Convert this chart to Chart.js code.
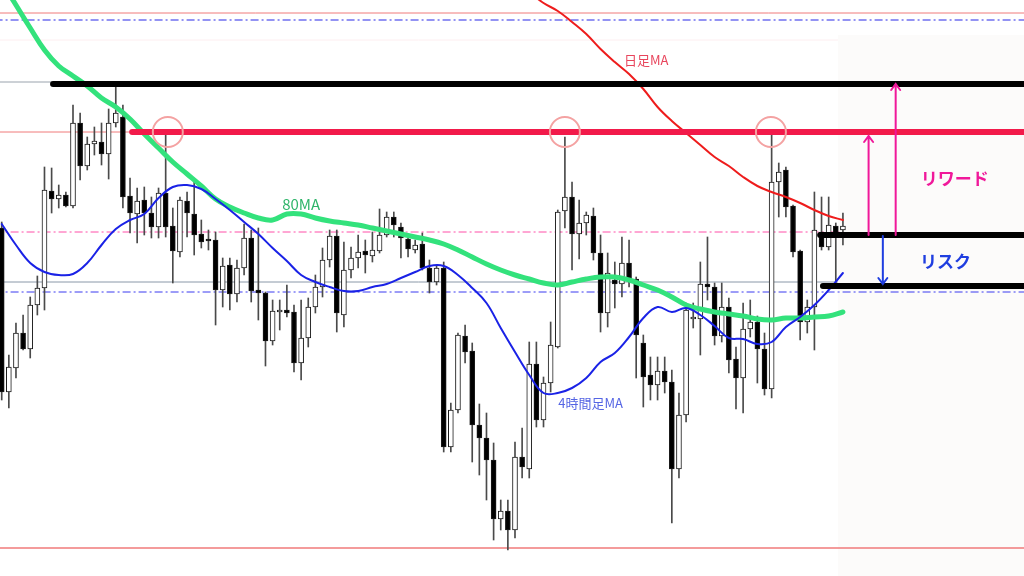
<!DOCTYPE html>
<html>
<head>
<meta charset="utf-8">
<script src="https://cdn.jsdelivr.net/npm/chart.js@4.4.1/dist/chart.umd.min.js"></script>
<style>
  html, body { margin: 0; padding: 0; background: #fff; }
  #wrap { width: 1024px; height: 576px; position: relative; }
</style>
</head>
<body>
<div id="wrap"><canvas id="fxChart"></canvas></div>
<script>
// 1h candles, prices (bar 0 = left edge)
const opens = [
  157.72,156.08,156.32,156.67,156.51,156.95,157.12,158.09,158.01,158.05,
  157.94,158.77,158.34,158.56,158.58,158.46,158.77,158.83,158.04,157.86,
  158.00,157.87,157.73,158.07,157.74,157.48,157.99,157.86,157.66,157.60,
  157.60,157.10,157.35,157.06,157.32,157.62,157.10,157.07,156.59,156.88,
  156.90,156.88,156.37,156.62,156.93,157.13,157.40,157.64,156.85,157.30,
  157.42,157.49,157.44,157.49,157.65,157.83,157.73,157.61,157.50,157.56,
  157.32,157.18,157.32,155.53,155.90,156.64,156.49,155.75,155.62,155.40,
  154.81,154.89,154.70,155.43,155.31,156.36,155.80,156.17,156.53,157.89,
  158.03,157.66,157.77,157.84,157.47,156.87,157.20,157.16,157.37,157.21,
  156.57,156.25,156.15,156.29,156.18,155.31,155.85,156.81,156.81,157.16,
  157.13,156.64,156.93,156.41,156.22,156.71,156.78,156.51,156.11,158.18,
  158.30,157.94,157.49,156.78,156.93,157.68,157.53,157.74,157.70
];
const highs = [
  157.78,156.45,156.77,156.85,157.03,157.24,158.33,158.32,158.15,158.08,
  158.95,158.87,158.63,158.73,158.77,158.91,159.15,158.95,158.22,158.12,
  158.13,158.03,158.12,158.65,157.92,158.03,158.08,158.18,157.80,157.70,
  157.68,157.42,157.42,157.40,157.76,157.70,157.72,157.08,157.00,157.00,
  157.15,156.95,157.00,157.02,157.25,157.52,157.70,157.70,157.58,157.53,
  157.65,157.60,157.68,157.91,157.88,157.88,157.77,157.64,157.60,157.67,
  157.40,157.35,157.38,155.97,156.67,156.75,156.57,155.96,155.87,155.57,
  155.00,155.00,155.58,155.72,156.58,156.58,156.23,156.78,157.90,158.63,
  158.18,158.00,157.88,157.92,157.65,157.47,157.38,157.63,157.60,157.23,
  156.65,156.43,156.43,156.43,156.30,156.07,156.97,156.97,157.38,157.63,
  157.17,157.17,157.02,156.53,156.97,157.00,156.84,156.67,158.65,158.37,
  158.33,157.95,157.50,157.00,158.08,158.03,158.03,157.77,157.87
];
const lows = [
  156.00,155.92,156.22,156.50,156.42,156.85,156.90,157.87,157.92,157.93,
  157.92,158.20,158.30,158.45,158.35,158.21,158.73,157.92,157.67,157.57,
  157.65,157.62,157.62,157.63,157.17,157.43,157.63,157.45,157.52,157.50,
  156.75,156.93,156.90,156.98,157.25,156.98,156.80,156.34,156.55,156.70,
  156.83,156.28,156.20,156.53,156.87,157.03,157.33,156.68,156.73,157.22,
  157.32,157.27,157.38,157.47,157.63,157.63,157.42,157.43,157.47,157.30,
  157.07,157.15,155.48,155.48,155.87,156.37,155.38,155.25,155.00,154.60,
  154.70,154.50,154.62,155.22,155.22,155.73,155.73,156.08,156.52,157.72,
  157.30,157.41,157.65,157.40,156.68,156.73,156.92,157.03,157.13,156.22,
  155.93,156.00,156.00,156.07,154.77,155.22,155.78,156.72,156.45,157.00,
  156.55,156.58,156.27,155.91,155.87,156.63,156.17,156.05,156.02,157.83,
  157.83,157.43,156.60,156.67,156.50,157.50,157.50,157.17,157.55
];
const closes = [
  156.08,156.33,156.67,156.51,156.95,157.12,158.10,158.01,158.05,157.94,
  158.77,158.34,158.56,158.59,158.46,158.77,158.87,158.03,157.87,157.99,
  157.87,157.73,158.07,157.73,157.49,158.00,157.87,157.65,157.58,157.59,
  157.10,157.34,157.06,157.32,157.62,157.09,157.07,156.59,156.89,156.90,
  156.87,156.37,156.62,156.93,157.13,157.40,157.64,156.87,157.30,157.42,
  157.48,157.45,157.50,157.65,157.83,157.75,157.62,157.51,157.55,157.32,
  157.18,157.32,155.53,155.90,156.65,156.48,155.75,155.62,155.40,154.81,
  154.89,154.70,155.43,155.33,156.36,155.80,156.17,156.55,157.88,158.03,
  157.66,157.77,157.85,157.47,156.87,157.27,157.16,157.37,157.20,156.65,
  156.23,156.15,156.29,156.18,155.31,155.85,156.90,156.82,157.16,157.13,
  156.64,156.93,156.40,156.22,156.71,156.78,156.51,156.11,158.18,158.28,
  157.93,157.48,156.78,156.93,157.70,157.53,157.75,157.65,157.74
];

// moving averages, read every second bar
const maBars = Array.from({ length: 60 }, (_, k) => k * 2);
const ma80 = [
  160.18,159.95,159.72,159.50,159.34,159.24,159.14,159.02,158.93,158.81,
  158.66,158.52,158.38,158.26,158.14,158.01,157.93,157.87,157.82,157.80,
  157.86,157.86,157.82,157.79,157.77,157.75,157.72,157.69,157.66,157.63,
  157.60,157.56,157.50,157.43,157.36,157.30,157.25,157.21,157.17,157.15,
  157.18,157.21,157.23,157.23,157.20,157.15,157.10,157.03,156.95,156.91,
  156.88,156.86,156.84,156.81,156.80,156.82,156.82,156.83,156.84,156.88
];
const ma4h = [
  157.76,157.55,157.37,157.28,157.25,157.26,157.37,157.55,157.71,157.80,
  157.86,158.02,158.13,158.15,158.11,158.01,157.90,157.78,157.66,157.52,
  157.39,157.25,157.18,157.13,157.09,157.09,157.13,157.16,157.22,157.28,
  157.34,157.34,157.25,157.12,156.97,156.72,156.48,156.25,156.07,156.07,
  156.12,156.22,156.38,156.47,156.63,156.82,156.93,156.88,156.92,156.85,
  156.74,156.62,156.61,156.56,156.58,156.73,156.83,156.95,157.10,157.27
];
const dailyBars = [74,76,78,80,82,84,86,88,90,92,94,96,98,100,102,104,106,108,110,112,114,116,118];
const maDaily = [
  160.08,159.97,159.89,159.78,159.66,159.51,159.38,159.26,159.11,158.93,
  158.79,158.67,158.55,158.43,158.34,158.23,158.14,158.08,158.03,157.97,
  157.90,157.84,157.80
];

// price levels: [price, first bar, last bar]
const lvlRedTop    = [159.87, -1, 144];
const lvlBlueTop   = [159.80, -1, 144];
const lvlPinkFaint = [159.60, -1, 117.3];
const lvlGrayTop   = [159.18, -1, 7.2];
const lvlTarget2   = [159.16, 7.2, 144];
const lvlRedThin   = [158.68, -1, 18.3];
const lvlTarget1   = [158.68, 18.3, 144];
const lvlPinkDash  = [157.68, -1, 117.5];
const lvlEntry     = [157.65, 114.8, 144];
const lvlGrayMid   = [157.18, -1, 117.3];
const lvlStop      = [157.14, 115.2, 144];
const lvlBlueDash  = [157.08, -1, 144];
const lvlRedLow    = [154.52, -1, 144];

// triple top touches
const touchBars = [23.3, 79.0, 107.9];
const touchPrice = 158.68;

// reward / risk arrows: [bar, from price, to price]
const rewardArrows = [[121.6, 157.65, 158.64], [125.4, 157.65, 159.16]];
const riskArrow = [123.6, 157.64, 157.16];

// labels: [text, bar, price]
const labelDaily = ['日足MA', 90.4, 159.40];
const label80 = ['80MA', 42.0, 157.96];
const label4h = ['4時間足MA', 82.6, 155.97];
const labelReward = ['リワード', 133.7, 158.21];
const labelRisk = ['リスク', 132.4, 157.38];

const sideBox = [117.3, 159.65];

const dashDot = [8, 3, 2, 3];

function hline(level, color, width, dash, order, cap) {
  return {
    type: 'line',
    data: [{ x: level[1], y: level[0] }, { x: level[2], y: level[0] }],
    borderColor: color,
    borderWidth: width,
    borderDash: dash || [],
    borderCapStyle: cap || 'butt',
    pointRadius: 0,
    order: order
  };
}

function maLine(bars, values, color, width, order) {
  return {
    type: 'line',
    data: bars.map((b, k) => ({ x: b, y: values[k] })),
    borderColor: color,
    borderWidth: width,
    borderCapStyle: 'round',
    borderJoinStyle: 'round',
    tension: 0.4,
    pointRadius: 0,
    order: order
  };
}

const up = opens.map((o, i) => closes[i] >= o);

const annotate = {
  id: 'annotate',
  beforeDraw(chart) {
    const { ctx, width, height } = chart;
    ctx.save();
    ctx.fillStyle = '#ffffff';
    ctx.fillRect(0, 0, width, height);
    ctx.restore();
  },
  beforeDatasetsDraw(chart) {
    const { ctx, scales: { x, y }, chartArea } = chart;
    ctx.save();
    ctx.fillStyle = '#fcfbfa';
    const left = x.getPixelForValue(sideBox[0]);
    const top = y.getPixelForValue(sideBox[1]);
    ctx.fillRect(left, top, chartArea.right - left, chartArea.bottom - top);
    ctx.restore();
  },
  afterDatasetsDraw(chart) {
    const { ctx, scales: { x, y } } = chart;
    ctx.save();

    const arrow = (a, color) => {
      const px = x.getPixelForValue(a[0]);
      const y0 = y.getPixelForValue(a[1]);
      const y1 = y.getPixelForValue(a[2]);
      const dir = y1 < y0 ? 1 : -1;
      ctx.strokeStyle = color;
      ctx.lineWidth = 2;
      ctx.lineCap = 'round';
      ctx.beginPath();
      ctx.moveTo(px, y0);
      ctx.lineTo(px, y1);
      ctx.moveTo(px - 4.5, y1 + dir * 6);
      ctx.lineTo(px, y1);
      ctx.lineTo(px + 4.5, y1 + dir * 6);
      ctx.stroke();
    };
    rewardArrows.forEach(a => arrow(a, '#f0189a'));
    arrow(riskArrow, '#1f3ee0');

    const label = (l, color, font) => {
      ctx.fillStyle = color;
      ctx.font = font;
      ctx.textAlign = 'center';
      ctx.textBaseline = 'middle';
      ctx.fillText(l[0], x.getPixelForValue(l[1]), y.getPixelForValue(l[2]));
    };
    const jp = '"Noto Sans CJK JP", "Noto Sans", sans-serif';
    label(labelDaily, '#e8455c', '13px ' + jp);
    label(label80, '#2fb56a', '15px ' + jp);
    label(label4h, '#5565e4', '13px ' + jp);
    label(labelReward, '#f0189a', 'bold 17px ' + jp);
    label(labelRisk, '#1f3ee0', 'bold 17px ' + jp);
    ctx.restore();
  }
};

new Chart(document.getElementById('fxChart').getContext('2d'), {
  type: 'bar',
  data: {
    datasets: [
      // thin reference lines
      hline(lvlRedTop, '#f07a7a', 1, null, 20),
      hline(lvlBlueTop, '#7070f0', 1.5, dashDot, 20),
      hline(lvlPinkFaint, '#fdeef0', 1, null, 20),
      hline(lvlGrayTop, '#9aa3ad', 1, null, 20),
      hline(lvlRedThin, '#f07a7a', 1, null, 20),
      hline(lvlPinkDash, '#ff4fa8', 1, dashDot, 20),
      hline(lvlGrayMid, '#8a98a8', 1, null, 20),
      hline(lvlBlueDash, '#3a3af0', 1, dashDot, 20),
      hline(lvlRedLow, '#f07a7a', 1.5, null, 20),
      // candles
      {
        type: 'bar',
        data: opens.map((o, i) => ({ x: i, y: [lows[i], highs[i]] })),
        backgroundColor: '#4a4a4a',
        barThickness: 1,
        minBarLength: 1,
        grouped: false,
        order: 12
      },
      {
        type: 'bar',
        data: opens.map((o, i) => ({ x: i, y: [o, closes[i]] })),
        backgroundColor: up.map(u => (u ? '#ffffff' : '#000000')),
        borderColor: '#1a1a1a',
        borderWidth: 1,
        borderSkipped: false,
        barThickness: 5,
        minBarLength: 2,
        grouped: false,
        order: 11
      },
      // moving averages
      maLine(maBars, ma80, '#33e27c', 5, 8),
      maLine(maBars, ma4h, '#1a22e6', 2, 7),
      maLine(dailyBars, maDaily, '#ee1c1c', 2, 7),
      // drawn trade levels
      hline(lvlTarget2, '#000000', 6, null, 4, 'round'),
      hline(lvlTarget1, '#f21a4a', 6, null, 4, 'round'),
      hline(lvlEntry, '#000000', 6, null, 4, 'round'),
      hline(lvlStop, '#000000', 6, null, 4, 'round'),
      // touch circles
      {
        type: 'line',
        data: touchBars.map(b => ({ x: b, y: touchPrice })),
        showLine: false,
        pointRadius: 15,
        pointBorderWidth: 2,
        pointBorderColor: '#f4a2a2',
        pointBackgroundColor: 'rgba(0,0,0,0)',
        order: 1
      }
    ]
  },
  options: {
    responsive: true,
    maintainAspectRatio: false,
    animation: false,
    events: [],
    layout: { padding: 0, autoPadding: false },
    plugins: {
      legend: { display: false },
      tooltip: { enabled: false }
    },
    scales: {
      x: { type: 'linear', min: -0.24, max: 143.4, offset: false, display: false },
      y: { min: 154.24, max: 160.0, display: false }
    }
  },
  plugins: [annotate]
});
</script>
</body>
</html>
